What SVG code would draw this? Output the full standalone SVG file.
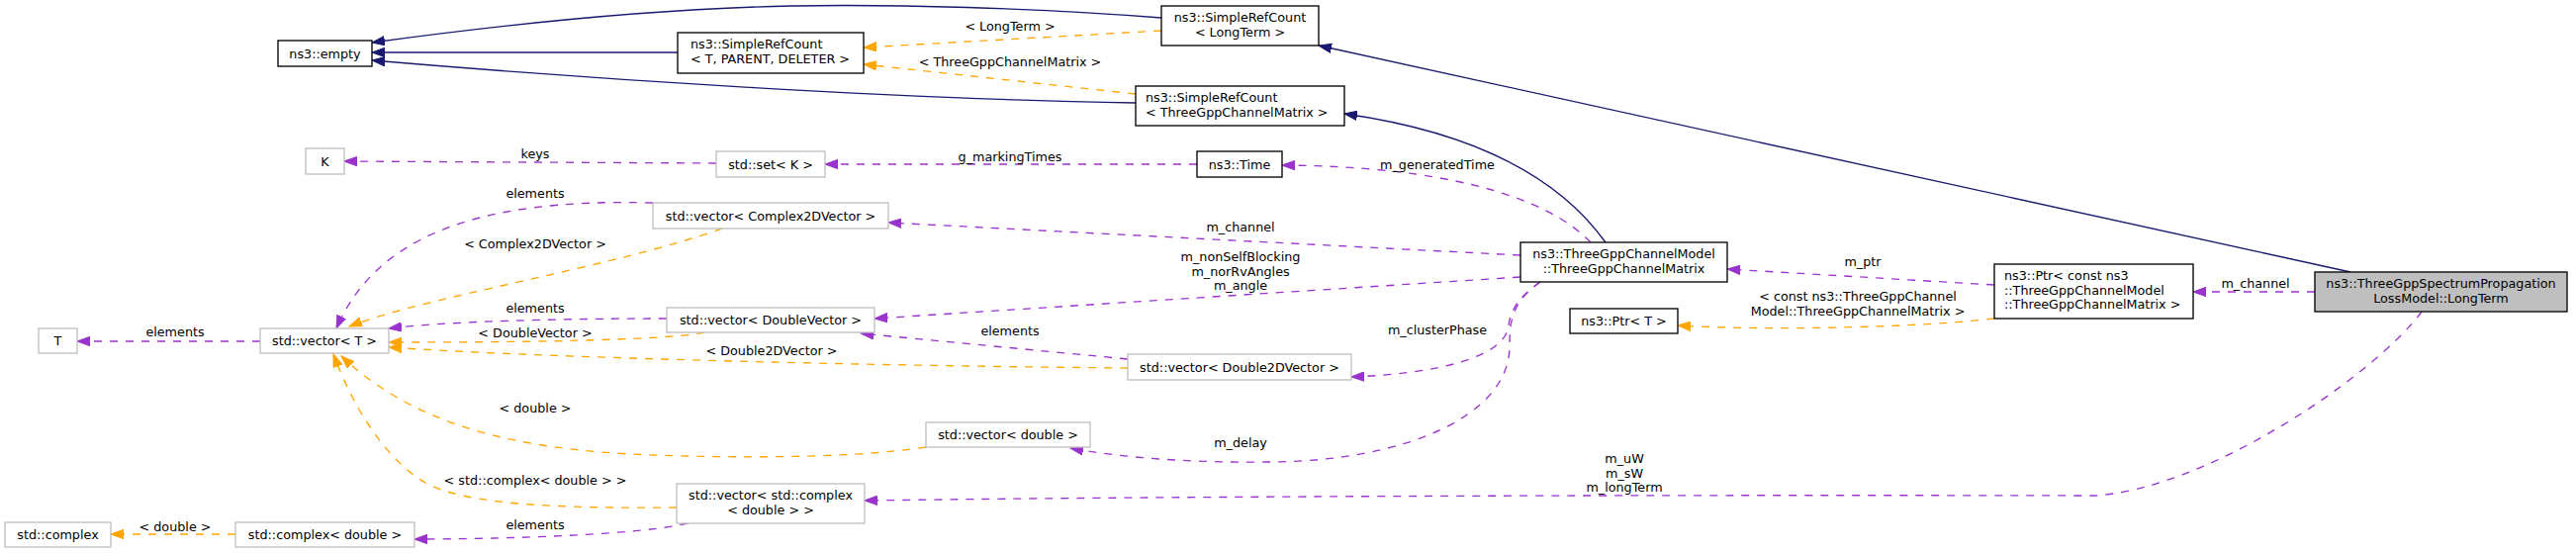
<svg xmlns="http://www.w3.org/2000/svg" width="2604" height="559" viewBox="0 0 2604 559">
<style>
text{font-family:"DejaVu Sans","Liberation Sans",sans-serif;font-size:12.75px;fill:#000}
.c{text-anchor:middle}
.nd rect{fill:#fff;stroke:#000;stroke-width:1.33}
.nd.g rect{stroke:#bfbfbf}
.nd.h rect{fill:#bfbfbf}
.e path{fill:none;stroke-width:1.33}
.inh path{stroke:#191970;marker-end:url(#mN)}
.use path{stroke:#9a32cd;stroke-dasharray:8,8;marker-end:url(#mU)}
.tpl path{stroke:#ffa500;stroke-dasharray:8,8;marker-end:url(#mT)}
</style>
<defs>
<marker id="mN" markerUnits="userSpaceOnUse" markerWidth="14" markerHeight="10" viewBox="0 0 14 10" refX="13" refY="5" orient="auto"><path d="M0,0.3 L13,5 L0,9.7 Z" fill="#191970" stroke="#191970" stroke-width="1"/></marker>
<marker id="mU" markerUnits="userSpaceOnUse" markerWidth="14" markerHeight="10" viewBox="0 0 14 10" refX="13" refY="5" orient="auto"><path d="M0,0.3 L13,5 L0,9.7 Z" fill="#9a32cd" stroke="#9a32cd" stroke-width="1"/></marker>
<marker id="mT" markerUnits="userSpaceOnUse" markerWidth="14" markerHeight="10" viewBox="0 0 14 10" refX="13" refY="5" orient="auto"><path d="M0,0.3 L13,5 L0,9.7 Z" fill="#ffa500" stroke="#ffa500" stroke-width="1"/></marker>
</defs>
<rect width="2604" height="559" fill="#fff"/>
<g id="edges">
<g class="e inh">
<path d="M2376,275 L1333,46"/>
<path d="M1623,245 C1580,185 1500,135 1359,115"/>
<path d="M1174,18 C1050,8 900,4 800,6 C650,9 500,26 376,43"/>
<path d="M685,53 L376,53"/>
<path d="M1148,104 C900,100 600,80 376,61"/>
</g>
<g class="e use">
<path d="M724,165 L348,163"/><text class="c" x="541" y="160">keys</text>
<path d="M1210,166 L834,166"/><text class="c" x="1021" y="163">g_markingTimes</text>
<path d="M1608,245 C1560,195 1450,168 1296,167"/><text class="c" x="1453" y="171">m_generatedTime</text>
<path d="M1537,258 L898,225"/><text class="c" x="1254" y="234">m_channel</text>
<path d="M1537,280 L884,322"/><text class="c" x="1254" y="264">m_nonSelfBlocking</text><text class="c" x="1254" y="278.5">m_norRvAngles</text><text class="c" x="1254" y="293">m_angle</text>
<path d="M1140,363 L870,337"/><text class="c" x="1021" y="339">elements</text>
<path d="M1557,285 C1535,300 1526,315 1525,330 C1520,362 1450,378 1366,381"/><text class="c" x="1453" y="338">m_clusterPhase</text>
<path d="M1557,285 C1530,305 1526,320 1526,350 C1526,420 1420,467 1280,467 C1200,468 1130,462 1082,453"/><text class="c" x="1254" y="452">m_delay</text>
<path d="M2016,288 L1746,272"/><text class="c" x="1883" y="269">m_ptr</text>
<path d="M2340,295 L2217,295"/><text class="c" x="2280" y="291">m_channel</text>
<path d="M2448,315 C2400,380 2230,495 2117,501 C1600,500 1150,502 874,506"/><text class="c" x="1642" y="468">m_uW</text><text class="c" x="1642" y="482.5">m_sW</text><text class="c" x="1642" y="497">m_longTerm</text>
<path d="M660,205 C480,200 380,240 340,332"/><text class="c" x="541" y="200">elements</text>
<path d="M674,322 C560,322 450,325 393,332"/><text class="c" x="541" y="316">elements</text>
<path d="M263,345 L78,345"/><text class="c" x="177" y="340">elements</text>
<path d="M695,529 C650,540 520,545 419,545"/><text class="c" x="541" y="535">elements</text>
</g>
<g class="e tpl">
<path d="M1174,31 L873,48"/><text class="c" x="1021" y="31">&lt; LongTerm &gt;</text>
<path d="M1148,95 L873,65"/><text class="c" x="1021" y="67">&lt; ThreeGppChannelMatrix &gt;</text>
<path d="M2016,322 C1950,330 1800,335 1696,329"/><text class="c" x="1878" y="304">&lt; const ns3::ThreeGppChannel</text><text class="c" x="1878" y="319">Model::ThreeGppChannelMatrix &gt;</text>
<path d="M730,231 C620,270 430,300 353,330"/><text class="c" x="541" y="251">&lt; Complex2DVector &gt;</text>
<path d="M712,336 C670,345 500,346 393,346"/><text class="c" x="541" y="341">&lt; DoubleVector &gt;</text>
<path d="M1140,372 C900,370 550,362 393,351"/><text class="c" x="780" y="359">&lt; Double2DVector &gt;</text>
<path d="M936,452 C850,465 720,462 660,460 C520,455 420,430 345,360"/><text class="c" x="541" y="417">&lt; double &gt;</text>
<path d="M684,513 C560,514 470,510 430,488 C395,468 360,420 337,358"/><text class="c" x="541" y="490">&lt; std::complex&lt; double &gt; &gt;</text>
<path d="M238,540 L112,540"/><text class="c" x="177" y="537">&lt; double &gt;</text>
</g>
</g>
<g id="n_empty" class="nd"><rect x="281" y="41" width="95" height="26"/><text class="c" x="328.5" y="58.5">ns3::empty</text></g>
<g id="n_K" class="nd g"><rect x="309" y="150" width="39" height="26"/><text class="c" x="328.5" y="167.5">K</text></g>
<g id="n_T" class="nd g"><rect x="39" y="332" width="39" height="25"/><text class="c" x="58.5" y="349">T</text></g>
<g id="n_vecT" class="nd g"><rect x="263" y="332" width="130" height="25"/><text class="c" x="328" y="349">std::vector&lt; T &gt;</text></g>
<g id="n_complex" class="nd g"><rect x="5" y="528" width="107" height="25"/><text class="c" x="58.5" y="545">std::complex</text></g>
<g id="n_complexd" class="nd g"><rect x="238" y="528" width="181" height="25"/><text class="c" x="328.5" y="545">std::complex&lt; double &gt;</text></g>
<g id="n_setK" class="nd g"><rect x="724" y="153" width="110" height="26"/><text class="c" x="779" y="170.5">std::set&lt; K &gt;</text></g>
<g id="n_src_tpd" class="nd"><rect x="685" y="33" width="188" height="41"/><text x="698" y="49">ns3::SimpleRefCount</text><text x="698" y="63.5">&lt; T, PARENT, DELETER &gt;</text></g>
<g id="n_vecC2D" class="nd g"><rect x="660" y="205" width="238" height="26"/><text class="c" x="779" y="222.5">std::vector&lt; Complex2DVector &gt;</text></g>
<g id="n_vecDV" class="nd g"><rect x="674" y="311" width="210" height="25"/><text class="c" x="779" y="328">std::vector&lt; DoubleVector &gt;</text></g>
<g id="n_vecCD" class="nd g"><rect x="684" y="489" width="190" height="40"/><text class="c" x="779" y="505">std::vector&lt; std::complex</text><text class="c" x="779" y="519.5">&lt; double &gt; &gt;</text></g>
<g id="n_src_lt" class="nd"><rect x="1174" y="6" width="159" height="40"/><text class="c" x="1253.5" y="22">ns3::SimpleRefCount</text><text class="c" x="1253.5" y="36.5">&lt; LongTerm &gt;</text></g>
<g id="n_src_tgcm" class="nd"><rect x="1148" y="87" width="211" height="40"/><text x="1158" y="103">ns3::SimpleRefCount</text><text x="1158" y="117.5">&lt; ThreeGppChannelMatrix &gt;</text></g>
<g id="n_time" class="nd"><rect x="1210" y="153" width="86" height="26"/><text class="c" x="1253" y="170.5">ns3::Time</text></g>
<g id="n_vecD2D" class="nd g"><rect x="1140" y="358" width="226" height="26"/><text class="c" x="1253" y="375.5">std::vector&lt; Double2DVector &gt;</text></g>
<g id="n_vecd" class="nd g"><rect x="936" y="427" width="166" height="25"/><text class="c" x="1019" y="444">std::vector&lt; double &gt;</text></g>
<g id="n_tgcm" class="nd"><rect x="1537" y="245" width="209" height="40"/><text class="c" x="1641.5" y="261">ns3::ThreeGppChannelModel</text><text class="c" x="1641.5" y="275.5">::ThreeGppChannelMatrix</text></g>
<g id="n_ptrT" class="nd"><rect x="1587" y="312" width="109" height="25"/><text class="c" x="1641.5" y="329">ns3::Ptr&lt; T &gt;</text></g>
<g id="n_ptrc" class="nd"><rect x="2016" y="267" width="201" height="55"/><text x="2026" y="283">ns3::Ptr&lt; const ns3</text><text x="2026" y="297.5">::ThreeGppChannelModel</text><text x="2026" y="312">::ThreeGppChannelMatrix &gt;</text></g>
<g id="n_lt" class="nd h"><rect x="2340" y="275" width="255" height="40"/><text class="c" x="2467.5" y="291">ns3::ThreeGppSpectrumPropagation</text><text class="c" x="2467.5" y="305.5">LossModel::LongTerm</text></g>
</svg>
